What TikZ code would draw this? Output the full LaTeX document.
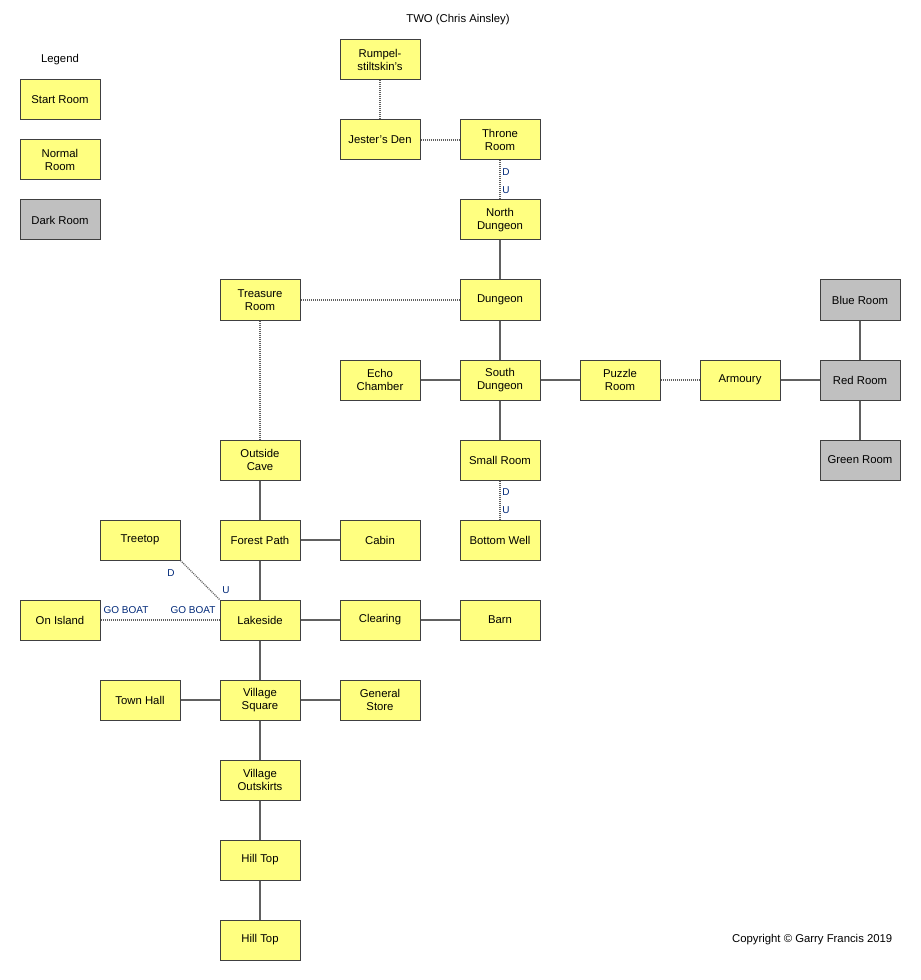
\documentclass[tikz,border=0pt]{standalone}
\usepackage{fontspec}
\setmainfont{Liberation Sans}
\begin{document}
\begin{tikzpicture}[x=0.75pt,y=0.75pt,yscale=-1,xscale=1,
  every node/.style={font=\fontsize{8.5}{9.5}\selectfont},
  room/.style={draw={rgb,255:red,64;green,64;blue,64},fill={rgb,255:red,255;green,255;blue,128},line width=0.75pt,minimum width=60pt,minimum height=30pt,inner sep=0.75pt,align=center},
  darkroom/.style={room,fill={rgb,255:red,192;green,192;blue,192}},
  startroom/.style={room,path picture={\fill (path picture bounding box.north east) -- ++(-6pt,0) -- ++(6pt,-6pt) -- cycle;}},
  link/.style={draw={rgb,255:red,96;green,96;blue,96},line width=1pt},
  hidden/.style={draw={rgb,255:red,96;green,96;blue,96},line width=1pt,dash pattern={on 0.75pt off 0.75pt}},
  tag/.style={text={rgb,255:red,0;green,40;blue,120},inner sep=0.75pt,font=\fontsize{7.5}{8}\selectfont}]
\useasboundingbox (0,0) rectangle (920,980);

% Title and legend
\node (title) at (458,20) {TWO (Chris Ainsley)};
\node (legend) at (60,60) {Legend};
\node [startroom] (lstart) at (60,100) {Start Room};
\node [room] (lnormal) at (60,160) {Normal\\Room};
\node [darkroom] (ldark) at (60,220) {Dark Room};

% Rooms
\node [room] (rumpel) at (380,60) {Rumpel-\\stiltskin's};
\node [room] (jester) at (380,140) {Jester's Den};
\node [room] (throne) at (500,140) {Throne\\Room};
\node [room] (ndungeon) at (500,220) {North\\Dungeon};
\node [room] (dungeon) at (500,300) {Dungeon};
\node [room] (treasure) at (260,300) {Treasure\\Room};
\node [room] (echo) at (380,380) {Echo\\Chamber};
\node [room] (sdungeon) at (500,380) {South\\Dungeon};
\node [room] (puzzle) at (620,380) {Puzzle\\Room};
\node [room] (armoury) at (740,380) {Armoury};
\node [darkroom] (blue) at (860,300) {Blue Room};
\node [darkroom] (red) at (860,380) {Red Room};
\node [darkroom] (green) at (860,460) {Green Room};
\node [room] (small) at (500,460) {Small Room};
\node [room] (well) at (500,540) {Bottom Well};
\node [room] (cave) at (260,460) {Outside\\Cave};
\node [room] (forest) at (260,540) {Forest Path};
\node [room] (cabin) at (380,540) {Cabin};
\node [room] (treetop) at (140,540) {Treetop};
\node [room] (island) at (60,620) {On Island};
\node [room] (lakeside) at (260,620) {Lakeside};
\node [room] (clearing) at (380,620) {Clearing};
\node [room] (barn) at (500,620) {Barn};
\node [room] (townhall) at (140,700) {Town Hall};
\node [room] (square) at (260,700) {Village\\Square};
\node [room] (store) at (380,700) {General\\Store};
\node [room] (outskirts) at (260,780) {Village\\Outskirts};
\node [room] (hilltop) at (260,860) {Hill Top};
\node [startroom] (hilltop2) at (260,940) {Hill Top};

% Connections
\draw [hidden] (rumpel) -- (jester);
\draw [hidden] (jester) -- (throne);
\draw [hidden] (throne) -- (ndungeon);
\draw [link] (ndungeon) -- (dungeon);
\draw [hidden] (dungeon) -- (treasure);
\draw [link] (dungeon) -- (sdungeon);
\draw [link] (echo) -- (sdungeon);
\draw [link] (sdungeon) -- (puzzle);
\draw [hidden] (puzzle) -- (armoury);
\draw [link] (armoury) -- (red);
\draw [link] (blue) -- (red);
\draw [link] (red) -- (green);
\draw [link] (sdungeon) -- (small);
\draw [hidden] (small) -- (well);
\draw [hidden] (treasure) -- (cave);
\draw [link] (cave) -- (forest);
\draw [link] (forest) -- (cabin);
\draw [link] (forest) -- (lakeside);
\draw [hidden] (treetop.south east) -- (lakeside.north west);
\draw [hidden] (island) -- (lakeside);
\draw [link] (lakeside) -- (clearing);
\draw [link] (clearing) -- (barn);
\draw [link] (lakeside) -- (square);
\draw [link] (townhall) -- (square);
\draw [link] (square) -- (store);
\draw [link] (square) -- (outskirts);
\draw [link] (outskirts) -- (hilltop);
\draw [link] (hilltop) -- (hilltop2);

% Direction labels
\node [tag] (d1) at (506,172) {D};
\node [tag] (u1) at (506,190) {U};
\node [tag] (d2) at (506,492) {D};
\node [tag] (u2) at (506,510) {U};
\node [tag] (d3) at (171,573) {D};
\node [tag] (u3) at (226,590) {U};
\node [tag] (boat1) at (126,610) {GO BOAT};
\node [tag] (boat2) at (193,610) {GO BOAT};

\node [anchor=east] (copy) at (897,940) {Copyright © Garry Francis 2019};
\end{tikzpicture}
\end{document}
